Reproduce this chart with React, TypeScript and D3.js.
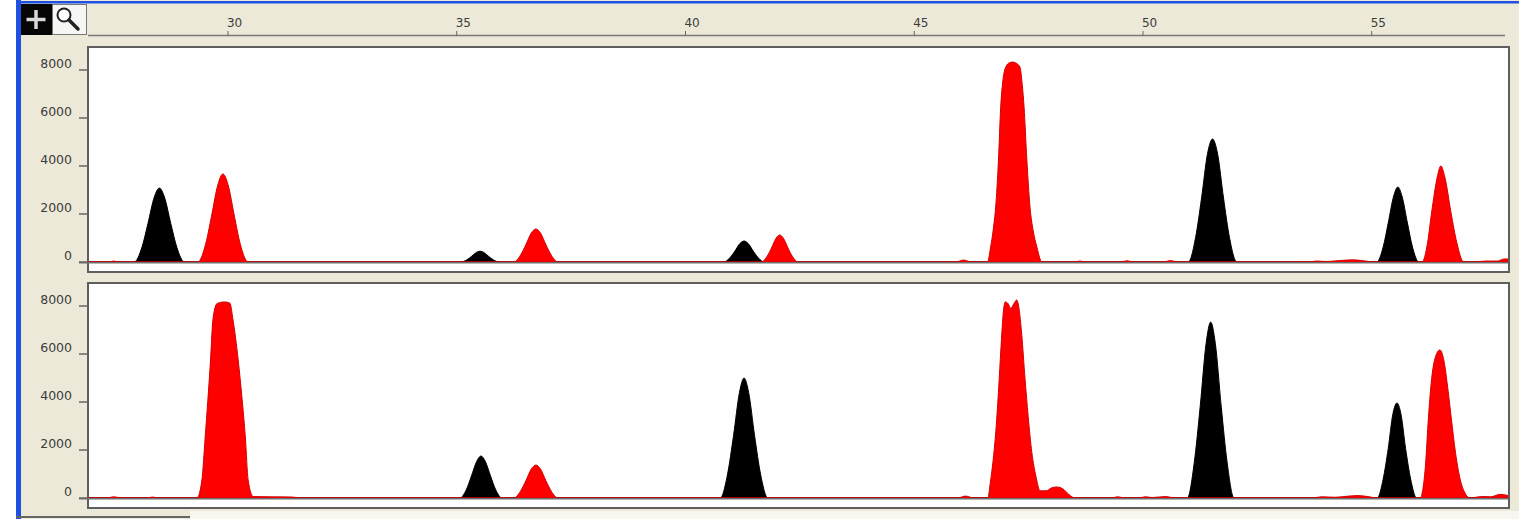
import * as d3 from "d3";
import { useEffect, useRef } from "react";

type Pt = [number, number];

// size axis (ruler) and signal axis ticks
const sizeTicks = [30, 35, 40, 45, 50, 55];
const rfuTicks = [0, 2000, 4000, 6000, 8000];

// [size, signal] — upper lane
const topBlack: Pt[] = [
  [26.94, 0],
  [27.95, 0], [28.12, 620], [28.25, 1600], [28.39, 2710], [28.5, 3080], [28.61, 2710], [28.75, 1600], [28.88, 620], [29.05, 0],
  [35.09, 0], [35.22, 90], [35.32, 230], [35.43, 400], [35.51, 450], [35.59, 400], [35.7, 230], [35.8, 90], [35.93, 0],
  [40.84, 0], [40.97, 175], [41.08, 455], [41.19, 770], [41.28, 875], [41.37, 770], [41.48, 455], [41.59, 175], [41.72, 0],
  [50.99, 0], [51.15, 1025], [51.28, 2665], [51.41, 4510], [51.52, 5125], [51.63, 4510], [51.76, 2665], [51.89, 1025], [52.05, 0],
  [55.11, 0], [55.25, 625], [55.36, 1625], [55.48, 2750], [55.57, 3125], [55.66, 2750], [55.78, 1625], [55.89, 625], [56.03, 0],
  [58, 0],
];

const topRed: Pt[] = [
  [26.94, 0], [27.4, 0], [27.5, 40], [27.62, 0],
  [29.34, 0], [29.51, 735], [29.64, 1910], [29.78, 3230], [29.89, 3670], [30.0, 3230], [30.14, 1910], [30.27, 735], [30.44, 0],
  [36.25, 0], [36.39, 275], [36.51, 715], [36.63, 1210], [36.73, 1375], [36.83, 1210], [36.95, 715], [37.07, 275], [37.21, 0],
  [41.66, 0], [41.78, 225], [41.88, 585], [41.98, 990], [42.06, 1125], [42.14, 990], [42.24, 585], [42.34, 225], [42.46, 0],
  [45.9, 0], [46.08, 80], [46.25, 0],
  [46.6, 0], [46.67, 625], [46.73, 1400], [46.78, 2290], [46.84, 4200], [46.89, 6460], [46.94, 7600], [47.0, 8120], [47.08, 8300],
  [47.15, 8330], [47.23, 8280], [47.31, 8120], [47.36, 7400], [47.4, 6460], [47.46, 4300], [47.53, 2290], [47.6, 1300],
  [47.68, 625], [47.79, 0],
  [48.5, 0], [48.62, 40], [48.75, 0],
  [49.5, 0], [49.65, 50], [49.8, 0],
  [50.45, 0], [50.6, 60], [50.75, 0],
  [53.6, 0], [53.8, 40], [54.0, 20], [54.3, 60], [54.6, 90], [54.9, 30], [55.05, 0],
  [56.1, 0], [56.22, 800], [56.31, 2080], [56.43, 3520], [56.51, 4000], [56.6, 3520], [56.73, 2080], [56.86, 800], [57.01, 0],
  [57.2, 0], [57.5, 40], [57.75, 40], [57.9, 130], [58, 120],
];

// lower lane
const bottomBlack: Pt[] = [
  [26.94, 0],
  [35.07, 0], [35.21, 350], [35.32, 910], [35.44, 1540], [35.53, 1750], [35.62, 1540], [35.74, 910], [35.85, 350], [35.99, 0],
  [40.76, 0], [40.92, 1000], [41.05, 2600], [41.18, 4400], [41.28, 5000], [41.38, 4400], [41.51, 2600], [41.64, 1000], [41.8, 0],
  [50.97, 0], [51.12, 1470], [51.25, 3810], [51.38, 6450], [51.48, 7330], [51.58, 6450], [51.71, 3810], [51.84, 1470], [51.99, 0],
  [55.12, 0], [55.25, 790], [55.36, 2060], [55.46, 3480], [55.55, 3960], [55.64, 3480], [55.74, 2060], [55.85, 790], [55.98, 0],
  [58, 0],
];

const bottomRed: Pt[] = [
  [26.94, 0], [27.35, 0], [27.5, 50], [27.7, 0], [28.22, 0], [28.35, 40], [28.48, 0],
  [29.32, 0], [29.43, 750], [29.5, 2500], [29.56, 4080], [29.62, 5800], [29.67, 7420], [29.76, 8100], [29.93, 8170], [30.04, 8120],
  [30.11, 7420], [30.22, 5800], [30.31, 4080], [30.38, 2500], [30.44, 750], [30.55, 60], [30.9, 50], [31.4, 40], [31.6, 0],
  [36.25, 0], [36.39, 275], [36.51, 715], [36.63, 1210], [36.73, 1375], [36.83, 1210], [36.95, 715], [37.07, 275], [37.21, 0],
  [45.95, 0], [46.12, 80], [46.3, 0],
  [46.61, 0], [46.66, 600], [46.72, 1500], [46.78, 2700], [46.84, 4400], [46.9, 6400], [46.95, 7800], [46.99, 8170], [47.05, 8100],
  [47.11, 7900], [47.18, 8100], [47.24, 8250], [47.29, 7900], [47.35, 6800], [47.42, 5000], [47.49, 3400], [47.57, 1900],
  [47.66, 900], [47.75, 300],
  [47.88, 300], [48.0, 420], [48.12, 460], [48.25, 380], [48.38, 150], [48.51, 0],
  [49.3, 0], [49.45, 50], [49.6, 0], [49.9, 0], [50.05, 50], [50.2, 20], [50.5, 60], [50.7, 0],
  [53.7, 0], [53.9, 50], [54.2, 30], [54.5, 80], [54.7, 100], [54.95, 50], [55.1, 0],
  [56.06, 0], [56.12, 400], [56.18, 1500], [56.23, 3080], [56.3, 4800], [56.38, 5800], [56.49, 6170], [56.58, 5700], [56.66, 4600],
  [56.74, 3300], [56.83, 1900], [56.93, 800], [57.04, 200], [57.15, 0],
  [57.4, 60], [57.6, 50], [57.8, 150], [58, 100],
];

export default function App() {
  const ref = useRef<SVGSVGElement>(null);

  useEffect(() => {
    const svg = d3.select(ref.current);
    svg.selectAll("*").remove();
    const W = 1519,
      H = 519,
      plotLeft = 88,
      plotRight = 1509,
      beige = "#ece9d8",
      blue = "#1f50e2",
      ink = "#3c3c3c",
      font = "'DejaVu Sans', sans-serif";

    const panels = [
      { id: "top", top: 47, bottom: 272, y0: 262, y8000: 70, black: topBlack, red: topRed },
      { id: "bottom", top: 283, bottom: 508, y0: 498, y8000: 306, black: bottomBlack, red: bottomRed },
    ];

    const x = d3.scaleLinear().domain([26.94, 58]).range([plotLeft, plotRight]);

    // window background
    svg.append("rect").attr("width", W).attr("height", H).attr("fill", "#fff");
    svg.append("rect").attr("x", 16).attr("y", 0).attr("width", W - 16).attr("height", H).attr("fill", beige);
    svg.append("rect").attr("x", 190).attr("y", 511).attr("width", W - 190).attr("height", 8).attr("fill", "#f8f6ef");
    svg.append("rect").attr("x", 16).attr("y", 0).attr("width", 5).attr("height", H).attr("fill", blue);
    svg.append("rect").attr("x", 16).attr("y", 1).attr("width", W - 16).attr("height", 2.5).attr("fill", blue);
    svg.append("line").attr("x1", 16).attr("x2", 190).attr("y1", 517).attr("y2", 517)
      .attr("stroke", "#666").attr("stroke-width", 2);

    // toolbar buttons
    svg.append("rect").attr("x", 21).attr("y", 4).attr("width", 31).attr("height", 31).attr("fill", "#050505");
    svg.append("path").attr("d", "M36,10V29M26.5,19.5H45.5").attr("stroke", "#d8d8d8").attr("stroke-width", 3.5);
    svg.append("rect").attr("x", 52.5).attr("y", 4.5).attr("width", 34).attr("height", 30)
      .attr("fill", "#f6f6f4").attr("stroke", "#777").attr("stroke-width", 1);
    svg.append("circle").attr("cx", 64).attr("cy", 15).attr("r", 6.5)
      .attr("fill", "#fff").attr("stroke", "#222").attr("stroke-width", 2);
    svg.append("line").attr("x1", 69).attr("y1", 20).attr("x2", 78).attr("y2", 29)
      .attr("stroke", "#222").attr("stroke-width", 3.5).attr("stroke-linecap", "round");

    // ruler
    svg.append("line").attr("x1", plotLeft).attr("x2", 1505).attr("y1", 35.5).attr("y2", 35.5)
      .attr("stroke", "#7a7a7a").attr("stroke-width", 1.5);
    const ruler = svg.append("g").selectAll("g").data(sizeTicks).enter().append("g");
    ruler.append("line")
      .attr("x1", (d) => x(d)).attr("x2", (d) => x(d)).attr("y1", 31).attr("y2", 36)
      .attr("stroke", "#666").attr("stroke-width", 1);
    ruler.append("text")
      .attr("x", (d) => x(d) - 1).attr("y", 27)
      .attr("font-family", font).attr("font-size", 12).attr("fill", ink)
      .text((d) => d);

    panels.forEach((p) => {
      const y = d3.scaleLinear().domain([0, 8000]).range([p.y0, p.y8000]);
      const g = svg.append("g");

      g.append("rect")
        .attr("x", plotLeft).attr("y", p.top)
        .attr("width", plotRight - plotLeft).attr("height", p.bottom - p.top)
        .attr("fill", "#fefefe").attr("stroke", "#5e5e5e").attr("stroke-width", 2);

      g.append("clipPath").attr("id", "clip-" + p.id)
        .append("rect")
        .attr("x", plotLeft + 1).attr("y", p.top + 1)
        .attr("width", plotRight - plotLeft - 2).attr("height", p.bottom - p.top - 2);

      const area = d3.area<Pt>()
        .x((d) => x(d[0]))
        .y0(y(0))
        .y1((d) => y(d[1]))
        .curve(d3.curveMonotoneX);

      const traces = g.append("g").attr("clip-path", `url(#clip-${p.id})`);
      traces.append("path").attr("d", area(p.black))
        .attr("fill", "#000").attr("stroke", "#000").attr("stroke-width", 1);
      traces.append("path").attr("d", area(p.red))
        .attr("fill", "#ff0000").attr("stroke", "#d40000").attr("stroke-width", 1);

      // zero line runs from the tick through the plot
      g.append("line")
        .attr("x1", 79).attr("x2", plotRight - 1)
        .attr("y1", y(0) + 0.8).attr("y2", y(0) + 0.8)
        .attr("stroke", "#6f6f6f").attr("stroke-width", 1.6);

      const ticks = g.append("g").selectAll("g").data(rfuTicks).enter().append("g");
      ticks.append("line")
        .attr("x1", 79).attr("x2", plotLeft)
        .attr("y1", (d) => y(d)).attr("y2", (d) => y(d))
        .attr("stroke", "#666").attr("stroke-width", 1.5);
      ticks.append("text")
        .attr("x", 72).attr("y", (d) => y(d) - 2)
        .attr("text-anchor", "end")
        .attr("font-family", font).attr("font-size", 12.5).attr("fill", ink)
        .text((d) => d);
    });
  }, []);

  return (
    <svg
      ref={ref}
      width={1519}
      height={519}
      style={{ position: "absolute", left: 0, top: 0, display: "block" }}
    />
  );
}
